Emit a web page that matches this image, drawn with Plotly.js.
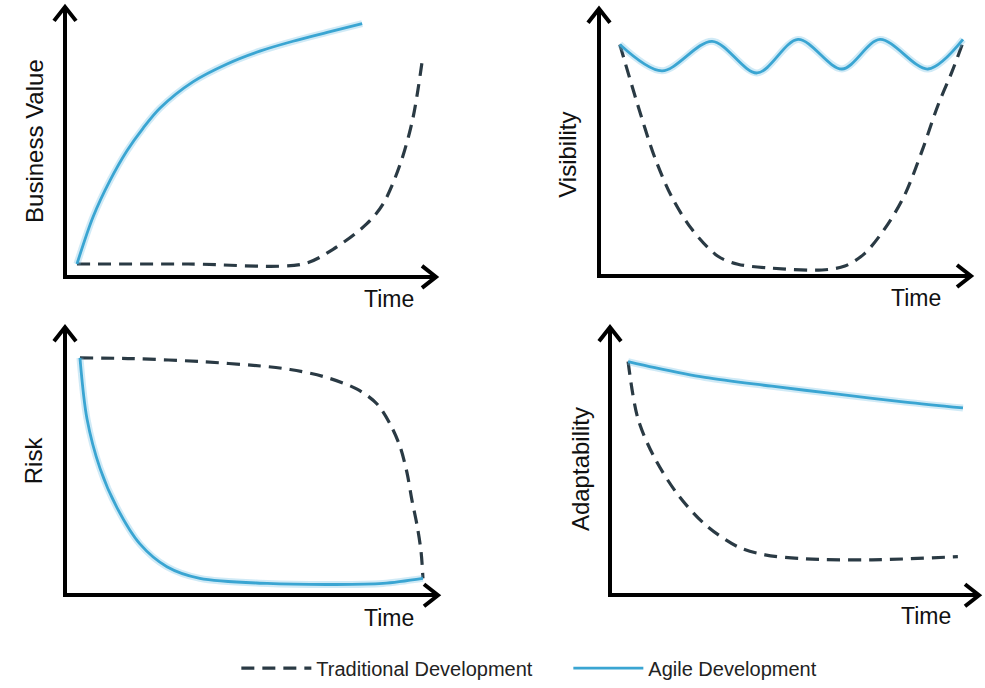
<!DOCTYPE html>
<html>
<head>
<meta charset="utf-8">
<script src="https://cdn.plot.ly/plotly-3.0.1.min.js"></script>
<style>html,body{margin:0;padding:0;background:#fff;}#chart{width:985px;height:688px;}</style>
</head>
<body>
<div id="chart"></div>
<script>
// ---- Data (time and value on a 0-100 scale per panel) ----
const seriesNames = ['Traditional Development', 'Agile Development'];
const yTitles = ['Business Value', 'Visibility', 'Risk', 'Adaptability'];
const xTitle = 'Time';

const bvAgileT = [2.7, 7.1, 11.7, 16.3, 20.7, 25.3, 34.2, 43.5, 52.4, 61.4, 70.7, 80.2];
const bvAgileV = [4.1, 21.8, 35.4, 46.5, 55.0, 62.5, 72.3, 79.0, 83.8, 87.5, 90.8, 94.1];
const bvTradT = [2.7, 33.0, 64.1, 72.3, 81.5, 85.9, 90.5, 94.0, 96.7];
const bvTradV = [4.1, 4.1, 4.1, 9.6, 19.2, 26.6, 41.3, 58.7, 81.9];

const visAgileT = [5.1, 16.5, 30.1, 42.3, 53.4, 65.3, 75.6, 88.6, 98.1];
const visAgileV = [86.9, 76.9, 88.1, 76.1, 88.8, 77.6, 88.8, 77.6, 88.8];
const visTradT = [5.1, 10.0, 14.6, 19.2, 24.7, 31.7, 37.1, 46.3, 59.9, 66.1, 71.5, 77.8, 82.4, 87.0, 91.3, 95.1, 98.1];
const visTradV = [86.9, 63.8, 44.0, 29.1, 16.8, 6.7, 3.7, 2.2, 1.5, 3.0, 7.8, 19.0, 30.2, 46.6, 63.8, 76.5, 87.7];

const riskAgileT = [3.5, 5.4, 8.9, 13.5, 19.7, 27.0, 35.9, 54.1, 71.9, 85.4, 96.2];
const riskAgileV = [88.8, 65.8, 47.2, 32.3, 18.6, 10.0, 5.6, 3.7, 3.3, 3.7, 5.6];
const riskTradT = [3.5, 17.8, 35.9, 54.1, 60.3, 69.2, 78.4, 83.8, 87.3, 90.0, 91.9, 93.2, 94.6, 95.7, 96.2];
const riskTradV = [88.8, 88.5, 87.4, 85.5, 84.4, 81.8, 77.0, 71.4, 63.9, 55.4, 45.4, 35.3, 25.7, 15.6, 5.6];

const adAgileT = [4.4, 11.7, 25.4, 43.7, 61.7, 80.1, 95.9];
const adAgileV = [87.4, 85.1, 81.4, 78.1, 75.1, 72.1, 69.9];
const adTradT = [4.4, 7.1, 11.7, 18.0, 25.4, 34.4, 41.8, 52.7, 71.0, 94.5];
const adTradV = [87.4, 65.8, 50.9, 37.2, 26.0, 17.5, 14.5, 13.0, 12.6, 13.8];

// ---- Styling ----
const W = 985, H = 688;
const BLUE = '#3aa5d2';
const GLOW = 'rgba(120,195,230,0.35)';
const DARK = '#2a3a44';
const FONT = 'Liberation Sans, Arial, sans-serif';

// panel pixel boxes: [left, right(tip), bottom(origin), top(tip)]
const boxes = [
  [67, 435, 279, 8],
  [601, 970, 278, 10],
  [67, 437, 602, 333],
  [612, 978, 602, 333]
];
const panels = [
  {agile: [bvAgileT, bvAgileV], trad: [bvTradT, bvTradV]},
  {agile: [visAgileT, visAgileV], trad: [visTradT, visTradV]},
  {agile: [riskAgileT, riskAgileV], trad: [riskTradT, riskTradV]},
  {agile: [adAgileT, adAgileV], trad: [adTradT, adTradV]}
];
const yLabelPos = [[35, 143], [568, 157], [33, 467], [580, 476]];
const xLabelPos = [[389, 303], [916, 302], [389, 627], [926, 625]];

const px = v => v / W, py = v => (H - v) / H;

const traces = [];
const layout = {
  width: W, height: H,
  margin: {l: 0, r: 0, t: 0, b: 0},
  paper_bgcolor: '#fff', plot_bgcolor: 'rgba(0,0,0,0)',
  font: {family: FONT, color: '#111'},
  showlegend: true,
  legend: {
    orientation: 'h', x: 0.577, xanchor: 'center', y: py(678), yanchor: 'middle',
    font: {size: 20, family: FONT, color: '#222'}, itemwidth: 70,
    entrywidth: 247, entrywidthmode: 'pixels',
    traceorder: 'normal', bgcolor: 'rgba(0,0,0,0)'
  },
  shapes: [], annotations: []
};

panels.forEach((p, i) => {
  const n = i + 1;
  const xa = n === 1 ? 'x' : 'x' + n, ya = n === 1 ? 'y' : 'y' + n;
  const xk = n === 1 ? 'xaxis' : 'xaxis' + n, yk = n === 1 ? 'yaxis' : 'yaxis' + n;
  const b = boxes[i];
  layout[xk] = {domain: [px(b[0]), px(b[1])], range: [0, 100], anchor: ya, showgrid: false, zeroline: false,
    showticklabels: false, ticks: '', showline: true, linewidth: 4, linecolor: '#000', fixedrange: true};
  layout[yk] = {domain: [py(b[2]), py(b[3])], range: [0, 100], anchor: xa, showgrid: false, zeroline: false,
    showticklabels: false, ticks: '', showline: true, linewidth: 4, linecolor: '#000', fixedrange: true};

  // dashed traditional
  traces.push({x: p.trad[0], y: p.trad[1], xaxis: xa, yaxis: ya, type: 'scatter', mode: 'lines',
    name: seriesNames[0], legendgroup: 'trad', showlegend: i === 0, legendrank: 1,
    line: {color: DARK, width: 3.2, dash: '13px,8px', shape: 'spline', smoothing: 0.9}, hoverinfo: 'skip'});
  // agile glow + line
  traces.push({x: p.agile[0], y: p.agile[1], xaxis: xa, yaxis: ya, type: 'scatter', mode: 'lines',
    showlegend: false, legendgroup: 'agile',
    line: {color: GLOW, width: 7, shape: 'spline', smoothing: 0.9}, hoverinfo: 'skip'});
  traces.push({x: p.agile[0], y: p.agile[1], xaxis: xa, yaxis: ya, type: 'scatter', mode: 'lines',
    name: seriesNames[1], legendgroup: 'agile', showlegend: i === 0, legendrank: 2,
    line: {color: BLUE, width: 2.8, shape: 'spline', smoothing: 0.9}, hoverinfo: 'skip'});

  // arrow heads (open chevrons)
  layout.shapes.push({type: 'path', xref: 'paper', yref: 'paper', xsizemode: 'pixel', ysizemode: 'pixel',
    xanchor: px(b[1]), yanchor: py(b[2]), path: 'M -13,9 L 1,-2 L -13,-13',
    line: {color: '#000', width: 4}, fillcolor: 'rgba(0,0,0,0)'});
  layout.shapes.push({type: 'path', xref: 'paper', yref: 'paper', xsizemode: 'pixel', ysizemode: 'pixel',
    xanchor: px(b[0]), yanchor: py(b[3]), path: 'M -13,-13 L -2,1 L 9,-13',
    line: {color: '#000', width: 4}, fillcolor: 'rgba(0,0,0,0)'});

  layout.annotations.push({text: yTitles[i], xref: 'paper', yref: 'paper', x: px(yLabelPos[i][0]), y: py(yLabelPos[i][1]),
    xanchor: 'center', yanchor: 'middle', textangle: -90, showarrow: false, font: {size: 24, family: FONT, color: '#111'}});
  layout.annotations.push({text: xTitle, xref: 'paper', yref: 'paper', x: px(xLabelPos[i][0]), y: py(xLabelPos[i][1]),
    xanchor: 'center', yanchor: 'middle', showarrow: false, font: {size: 23, family: FONT, color: '#111'}});
});

Plotly.newPlot('chart', traces, layout, {displayModeBar: false, staticPlot: true});
</script>
</body>
</html>
